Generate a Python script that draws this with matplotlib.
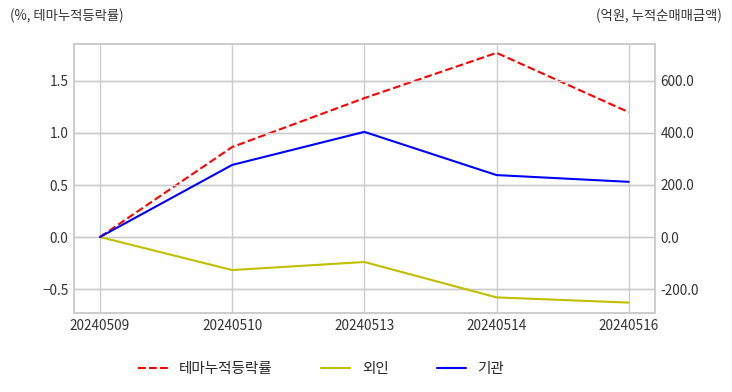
import matplotlib
matplotlib.use("Agg")
import matplotlib.pyplot as plt
import seaborn as sns

dates = ["20240509", "20240510", "20240513", "20240514", "20240516"]
theme_rate = [0.0, 0.865, 1.335, 1.77, 1.20]      # %, 테마누적등락률
foreign = [0.0, -127, -96, -232, -252]           # 억원, 외인
institution = [0.0, 277, 404, 238, 212]          # 억원, 기관

sns.set_style("whitegrid")
plt.rcParams['font.family'] = ['Noto Sans CJK KR', 'DejaVu Sans']

fig = plt.figure(figsize=(7.32, 3.92), dpi=100)
ax = fig.add_axes([0.101, 0.2015, 0.794, 0.6865])
ax2 = ax.twinx()

x = list(range(len(dates)))
l1, = ax.plot(x, theme_rate, color='r', linestyle='--', linewidth=1.5, label='테마누적등락률')
l2, = ax2.plot(x, foreign, color='y', linewidth=1.5, label='외인')
l3, = ax2.plot(x, institution, color='b', linewidth=1.5, label='기관')

ax.set_xlim(-0.197, 4.2)
ax.set_ylim(-0.73, 1.856)
ax2.set_ylim(-292, 742)
ax.set_xticks(x)
ax.set_xticklabels(dates)
ax.set_yticks([-0.5, 0.0, 0.5, 1.0, 1.5])
ax2.set_yticks([-200, 0, 200, 400, 600])
ax2.set_yticklabels([f"{v:.1f}" for v in [-200, 0, 200, 400, 600]])

for a in (ax, ax2):
    a.tick_params(labelsize=9.8, colors='#333333', length=0, pad=4)
    for s in a.spines.values():
        s.set_color('#cccccc')
        s.set_linewidth(1.2)
ax2.grid(True, color='#cccccc', linewidth=1.0)
ax2.xaxis.grid(False)
ax.grid(True, color='#cccccc', linewidth=1.0)

fig.text(0.014, 0.96, "(%, 테마누적등락률)", fontsize=9.6, color='#333333', va='center')
fig.text(0.986, 0.96, "(억원, 누적순매매금액)", fontsize=9.6, color='#333333', va='center', ha='right')

fig.legend(handles=[l1, l2, l3], loc='center', bbox_to_anchor=(0.439, 0.058), ncol=3,
           frameon=False, fontsize=10.5, columnspacing=3.3, handlelength=2.0)

fig.savefig("out.png", dpi=100)
